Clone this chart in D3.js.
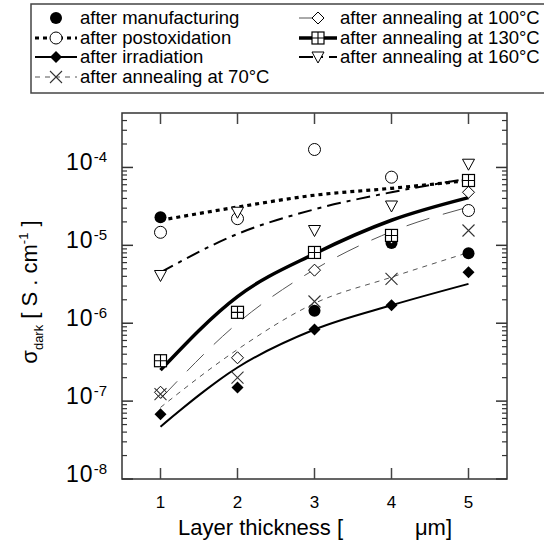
<!DOCTYPE html>
<html><head><meta charset="utf-8">
<script src="https://cdn.jsdelivr.net/npm/d3@7"></script>
<style>body{margin:0;background:#fff}svg{display:block}text{font-family:"Liberation Sans",Arial,sans-serif;fill:#000}</style>
</head><body>
<script>
// ---- data ----
const thickness = [1, 2, 3, 4, 5];
const xTicks = [1, 2, 3, 4, 5];
const yDecades = [-8, -7, -6, -5, -4];
// measured points
const manufacturing = [2.3e-5, null, 1.45e-6, 1.07e-5, 7.9e-6];
const postoxidation = [1.47e-5, 2.2e-5, 1.7e-4, 7.5e-5, 2.8e-5];
const irradiation = [6.8e-8, 1.5e-7, 8.3e-7, 1.7e-6, 4.5e-6];
const anneal70 = [1.23e-7, 2.0e-7, 1.9e-6, 3.7e-6, 1.55e-5];
const anneal100 = [1.3e-7, 3.6e-7, 4.8e-6, 1.25e-5, 4.8e-5];
const anneal130 = [3.3e-7, 1.38e-6, 8.1e-6, 1.34e-5, 6.8e-5];
const anneal160 = [4.1e-6, 2.66e-5, 1.55e-5, 3.2e-5, 1.1e-4];
// fitted curves
const fitPostox = [2.1e-5, 3.1e-5, 4.4e-5, 5.4e-5, 6.8e-5];
const fit160 = [4.5e-6, 1.4e-5, 2.9e-5, 4.8e-5, 7.2e-5];
const fit130 = [2.5e-7, 2.2e-6, 7.8e-6, 2.1e-5, 4.1e-5];
const fit100 = [1.07e-7, 1.0e-6, 4.9e-6, 1.5e-5, 3.1e-5];
const fit70 = [8.3e-8, 4.6e-7, 1.8e-6, 3.9e-6, 8.1e-6];
const fitIrr = [4.7e-8, 2.7e-7, 8.3e-7, 1.7e-6, 3.2e-6];

const series = [
  {name:"after manufacturing", pts:manufacturing, fit:null, marker:"fcircle", style:null},
  {name:"after postoxidation", pts:postoxidation, fit:fitPostox, marker:"ocircle", style:{w:3.2,dash:"4,4",c:"#000"}},
  {name:"after irradiation", pts:irradiation, fit:fitIrr, marker:"fdiamond", style:{w:2,dash:null,c:"#000"}},
  {name:"after annealing at 70°C", pts:anneal70, fit:fit70, marker:"cross", style:{w:1,dash:"5,5",c:"#555"}},
  {name:"after annealing at 100°C", pts:anneal100, fit:fit100, marker:"odiamond", style:{w:1,dash:"24,14",c:"#555"}},
  {name:"after annealing at 130°C", pts:anneal130, fit:fit130, marker:"square", style:{w:3.5,dash:null,c:"#000"}},
  {name:"after annealing at 160°C", pts:anneal160, fit:fit160, marker:"tri", style:{w:2,dash:"14,6,4,6",c:"#000"}}
];

const W = 544, H = 545;
const L = 122, R = 507, T = 113, B = 479;
const svg = d3.select("body").append("svg").attr("width", W).attr("height", H);
const x = d3.scaleLinear().domain([0.5, 5.5]).range([L, R]);
const y = d3.scaleLog().domain([1e-8, 5e-4]).range([B, T]);

function marker(g, type, cx, cy) {
  const s = g.append("g").attr("transform", `translate(${cx},${cy})`);
  if (type === "fcircle") s.append("circle").attr("r", 6).attr("fill", "#000");
  else if (type === "ocircle") s.append("circle").attr("r", 6).attr("fill", "#fff").attr("stroke", "#000").attr("stroke-width", 1);
  else if (type === "fdiamond") s.append("path").attr("d", "M0,-6L6,0L0,6L-6,0Z").attr("fill", "#000");
  else if (type === "odiamond") s.append("path").attr("d", "M0,-6L6,0L0,6L-6,0Z").attr("fill", "#fff").attr("stroke", "#000").attr("stroke-width", 1);
  else if (type === "cross") s.append("path").attr("d", "M-6,-6L6,6M-6,6L6,-6").attr("stroke", "#333").attr("stroke-width", 1.1).attr("fill", "none");
  else if (type === "square") {
    s.append("rect").attr("x", -6).attr("y", -6).attr("width", 12).attr("height", 12).attr("fill", "#fff").attr("stroke", "#000").attr("stroke-width", 1.2);
    s.append("path").attr("d", "M0,-6V6M-6,0H6").attr("stroke", "#000").attr("stroke-width", 1.1);
  } else if (type === "tri") s.append("path").attr("d", "M-6,-5L6,-5L0,6Z").attr("fill", "#fff").attr("stroke", "#000").attr("stroke-width", 1);
}

// ---- frame and ticks ----
const frame = svg.append("g");
frame.append("rect").attr("x", L).attr("y", T).attr("width", R - L).attr("height", B - T)
  .attr("fill", "none").attr("stroke", "#333").attr("stroke-width", 1.5);
xTicks.forEach(t => {
  frame.append("line").attr("x1", x(t)).attr("x2", x(t)).attr("y1", B).attr("y2", B - 11).attr("stroke", "#444").attr("stroke-width", 1.5);
  frame.append("line").attr("x1", x(t)).attr("x2", x(t)).attr("y1", T).attr("y2", T + 11).attr("stroke", "#444").attr("stroke-width", 1.5);
  svg.append("text").attr("x", x(t)).attr("y", 508).attr("text-anchor", "middle").attr("font-size", 17).text(t);
});
const minorVals = [];
for (let d = -8; d <= -4; d++) for (let m = 2; m <= 9; m++) { const v = m * Math.pow(10, d); if (v < 5e-4) minorVals.push(v); }
minorVals.forEach(v => {
  frame.append("line").attr("x1", L).attr("x2", L + 5).attr("y1", y(v)).attr("y2", y(v)).attr("stroke", "#333").attr("stroke-width", 1.2);
  frame.append("line").attr("x1", R).attr("x2", R - 5).attr("y1", y(v)).attr("y2", y(v)).attr("stroke", "#333").attr("stroke-width", 1.2);
});
yDecades.forEach(d => {
  const v = Math.pow(10, d);
  frame.append("line").attr("x1", L).attr("x2", L + 11).attr("y1", y(v)).attr("y2", y(v)).attr("stroke", "#333").attr("stroke-width", 1.5);
  frame.append("line").attr("x1", R).attr("x2", R - 11).attr("y1", y(v)).attr("y2", y(v)).attr("stroke", "#333").attr("stroke-width", 1.5);
  const tx = svg.append("text").attr("x", 107).attr("y", y(v) + 3).attr("text-anchor", "end").attr("font-size", 23);
  tx.append("tspan").attr("letter-spacing", 1).text("10");
  tx.append("tspan").attr("dy", -8).attr("font-size", 15).text("-" + (-d));
});

// ---- curves ----
const line = d3.line().x((d, i) => x(thickness[i])).y(d => y(d)).curve(d3.curveMonotoneX);
series.forEach(s => {
  if (!s.fit) return;
  svg.append("path").attr("d", line(s.fit)).attr("fill", "none")
    .attr("stroke", s.style.c).attr("stroke-width", s.style.w)
    .attr("stroke-dasharray", s.style.dash);
});
// ---- markers ----
const mg = svg.append("g");
const order = [0, 2, 4, 3, 1, 5, 6];
order.forEach(k => {
  const s = series[k];
  s.pts.forEach((v, i) => { if (v != null) marker(mg, s.marker, x(thickness[i]), y(v)); });
});

// ---- axis titles ----
svg.append("text").attr("x", 178).attr("y", 535).attr("font-size", 22).text("Layer thickness [");
svg.append("text").attr("x", 452).attr("y", 535).attr("text-anchor", "end").attr("font-size", 22).text("\u03bcm]");
const yt = svg.append("text").attr("transform", "translate(37,292) rotate(-90)").attr("text-anchor", "middle").attr("font-size", 22);
yt.append("tspan").text("\u03c3");
yt.append("tspan").attr("dy", 6).attr("font-size", 13).text("dark");
yt.append("tspan").attr("dy", -6).text(" [ S . cm");
yt.append("tspan").attr("dy", -9).attr("font-size", 13).text("-1");
yt.append("tspan").attr("dy", 9).text(" ]");

// ---- legend ----
const lg = svg.append("g");
lg.append("rect").attr("x", 31).attr("y", 4).attr("width", 540).attr("height", 89)
  .attr("fill", "#fff").attr("stroke", "#444").attr("stroke-width", 1.5);
const legPos = [
  {x0:35, x1:77, tx:80, y:18}, {x0:35, x1:77, tx:80, y:38}, {x0:35, x1:77, tx:80, y:57}, {x0:35, x1:77, tx:80, y:77},
  {x0:299, x1:337, tx:340, y:18}, {x0:299, x1:337, tx:340, y:38}, {x0:299, x1:337, tx:340, y:57}
];
series.forEach((s, k) => {
  const p = legPos[k];
  if (s.style) {
    lg.append("line").attr("x1", p.x0).attr("x2", p.x1).attr("y1", p.y).attr("y2", p.y)
      .attr("stroke", s.style.c).attr("stroke-width", s.style.w).attr("stroke-dasharray", s.style.dash);
  }
  marker(lg, s.marker, (p.x0 + p.x1) / 2, p.y);
  lg.append("text").attr("x", p.tx).attr("y", p.y + 6).attr("font-size", 18.5).text(s.name);
});
</script>
</body></html>
